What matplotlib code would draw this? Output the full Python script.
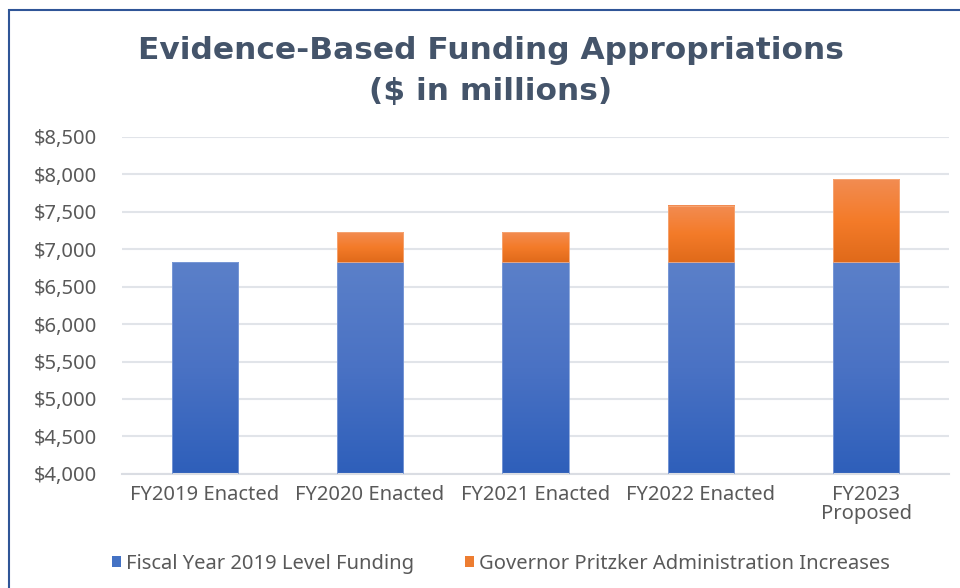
import matplotlib.pyplot as plt
import numpy as np
from matplotlib.colors import LinearSegmentedColormap
from matplotlib.patches import Patch, Rectangle

categories = ["FY2019 Enacted", "FY2020 Enacted", "FY2021 Enacted",
              "FY2022 Enacted", "FY2023\nProposed"]
base_funding = [6828, 6828, 6828, 6828, 6828]
increases = [0, 394, 394, 753, 1103]
yticks = [4000, 4500, 5000, 5500, 6000, 6500, 7000, 7500, 8000, 8500]

TEXT = "#595959"
TITLE = "#44546A"
FONT = ["Noto Sans", "DejaVu Sans"]

blue_cmap = LinearSegmentedColormap.from_list("b", ["#2E5FBA", "#4A72C4", "#5B80C9"])
orange_cmap = LinearSegmentedColormap.from_list("o", ["#E06A1A", "#F47B29", "#F28C52"])


def shade(ax, bars, cmap, edge):
    grad = np.linspace(0, 1, 256).reshape(-1, 1)
    for b in bars:
        if b.get_height() <= 0:
            b.set_visible(False)
            continue
        x0, y0 = b.get_x(), b.get_y()
        x1, y1 = x0 + b.get_width(), y0 + b.get_height()
        y0v = max(y0, 4000)
        ax.imshow(grad, extent=[x0, x1, y0v, y1], origin="lower", cmap=cmap,
                  aspect="auto", zorder=2)
        ax.add_patch(Rectangle((x0, y0v), x1 - x0, y1 - y0v, fill=False,
                               edgecolor=edge, linewidth=0.6, zorder=3))
        b.set_visible(False)


fig = plt.figure(figsize=(9.6, 5.88), dpi=100)
ax = fig.add_axes([0.127, 0.194, 0.8615, 0.5735])

x = np.arange(len(categories))
b1 = ax.bar(x, base_funding, width=0.4, color="#4472C4")
b2 = ax.bar(x, increases, width=0.4, bottom=base_funding, color="#ED7D31")
shade(ax, b1, blue_cmap, "#7F9DD8")
shade(ax, b2, orange_cmap, "#F6A878")

ax.set_xlim(-0.5, len(categories) - 0.5)
ax.set_ylim(4000, 8500)
ax.set_yticks(yticks)
ax.set_yticklabels([f"${v:,}" for v in yticks], family=FONT, fontsize=14.5, color=TEXT)
ax.set_xticks(x)
ax.set_xticklabels(categories, family=FONT, fontsize=14.5, color=TEXT, linespacing=0.95)
ax.tick_params(axis="y", length=0, pad=18)
ax.tick_params(axis="x", length=0, pad=8)
ax.grid(axis="y", color="#E1E4E9", linewidth=1.5, zorder=0)
ax.set_axisbelow(True)
for side in ["top", "right", "left"]:
    ax.spines[side].set_visible(False)
ax.spines["bottom"].set_color("#DADDE3")
ax.spines["bottom"].set_linewidth(1.5)

fig.text(0.511, 0.938, "Evidence-Based Funding Appropriations\n($ in millions)",
         ha="center", va="top", fontsize=22.5, fontweight="bold", color=TITLE,
         family="DejaVu Sans", linespacing=1.5)

handles = [Patch(facecolor="#4472C4", edgecolor="none"),
           Patch(facecolor="#ED7D31", edgecolor="none")]
fig.legend(handles, ["Fiscal Year 2019 Level Funding",
                     "Governor Pritzker Administration Increases"],
           loc="center", bbox_to_anchor=(0.522, 0.041), ncol=2, frameon=False,
           handlelength=0.45, handleheight=0.45, handletextpad=0.25,
           columnspacing=2.5, prop={"family": FONT, "size": 14.5},
           labelcolor=TEXT)

# chart frame (extends past right/bottom edge as in the original)
fig.add_artist(Rectangle((9 / 960, -0.05), 1.1, 1 - 10 / 588 + 0.05,
                         transform=fig.transFigure, fill=False,
                         edgecolor="#2F5597", linewidth=1.5))

fig.savefig("out.png", dpi=100)
